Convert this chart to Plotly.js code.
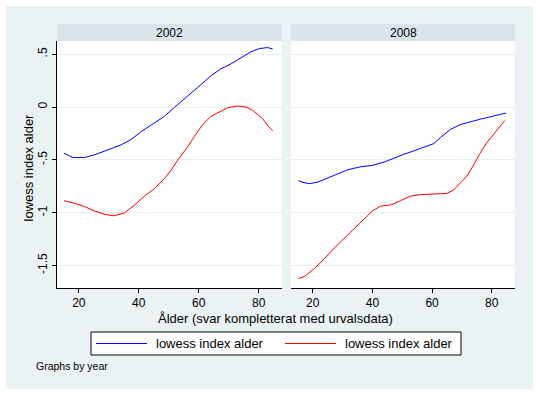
<!DOCTYPE html>
<html>
<head>
<meta charset="utf-8">
<script src="https://cdn.plot.ly/plotly-3.0.1.min.js"></script>
<style>html,body{margin:0;padding:0;background:#fff}#chart{width:540px;height:396px}</style>
</head>
<body>
<div id="chart"></div>
<script>
// Data
const panels = ['2002', '2008'];
const tickVals = [0.5, 0, -0.5, -1, -1.5];
const tickText = ['.5', '0', '-.5', '-1', '-1.5'];
const xTicks = [20, 40, 60, 80];

const age2002Blue = [15, 18, 21.9, 25.2, 29.7, 34.1, 37.4, 40.8, 45.2, 48.6, 51.9, 56.3, 59.7, 64.1, 67.4, 70.8, 74.1, 77.4, 80.2, 83, 84.7];
const val2002Blue = [-0.437, -0.478, -0.478, -0.453, -0.406, -0.358, -0.308, -0.233, -0.151, -0.088, -0.003, 0.10, 0.186, 0.296, 0.362, 0.409, 0.469, 0.522, 0.553, 0.563, 0.55];

const age2002Red = [15, 18.6, 21.9, 25.2, 28.6, 31.7, 35.2, 38.6, 41.9, 45.2, 48.6, 50.8, 53, 56.3, 58.6, 61.3, 64.1, 66.9, 69.7, 73, 75.8, 78, 81.3, 83, 84.7];
const val2002Red = [-0.887, -0.912, -0.943, -0.984, -1.016, -1.031, -1.003, -0.928, -0.843, -0.774, -0.676, -0.597, -0.503, -0.377, -0.277, -0.167, -0.088, -0.047, -0.006, 0.009, 0.0, -0.031, -0.11, -0.176, -0.226];

const age2008Blue = [15.2, 16.7, 18.9, 21.7, 25, 28.3, 31.7, 36.1, 40, 43.9, 47.2, 50.6, 53.9, 57.2, 60.6, 62.8, 66.1, 69.4, 72.8, 76.1, 79.4, 82.8, 84.8];
const val2008Blue = [-0.698, -0.714, -0.726, -0.711, -0.673, -0.632, -0.594, -0.566, -0.553, -0.522, -0.484, -0.447, -0.415, -0.381, -0.346, -0.289, -0.214, -0.167, -0.138, -0.116, -0.094, -0.069, -0.057];

const age2008Red = [15.2, 17.2, 20.6, 23.9, 27.2, 30.6, 33.9, 37.2, 40, 42.8, 46.1, 49.4, 52.8, 56.1, 60.6, 65, 67.2, 69.4, 71.7, 73.9, 76.1, 78.3, 80.6, 82.8, 84.4];
const val2008Red = [-1.626, -1.604, -1.528, -1.437, -1.336, -1.242, -1.151, -1.057, -0.984, -0.937, -0.928, -0.887, -0.843, -0.830, -0.827, -0.818, -0.786, -0.726, -0.654, -0.550, -0.437, -0.340, -0.255, -0.182, -0.129];

const legendLabels = ['lowess index alder', 'lowess index alder'];
const xTitle = 'Ålder (svar kompletterat med urvalsdata)';
const yTitle = 'lowess index alder';
const note = 'Graphs by year';

(function () {
const W = 540, H = 396;
const px = v => v / W;
const py = v => 1 - v / H;
const FONT = 'Liberation Sans, Arial, sans-serif';
const BG = '#EAF2F3';
const STRIP = '#D9E5EA';
const GRID = '#E6EEF0';

const line = (c) => ({color: c, width: 1});
const traces = [
  {x: age2002Blue, y: val2002Blue, xaxis: 'x', yaxis: 'y', mode: 'lines', line: line('#0000FF'), name: legendLabels[0], showlegend: false},
  {x: age2002Red, y: val2002Red, xaxis: 'x', yaxis: 'y', mode: 'lines', line: line('#FF0000'), name: legendLabels[1], showlegend: false},
  {x: age2008Blue, y: val2008Blue, xaxis: 'x2', yaxis: 'y2', mode: 'lines', line: line('#0000FF'), name: legendLabels[0], showlegend: false},
  {x: age2008Red, y: val2008Red, xaxis: 'x2', yaxis: 'y2', mode: 'lines', line: line('#FF0000'), name: legendLabels[1], showlegend: false}
];

const p1 = [57, 282], p2 = [291, 515];
const topY = 41, botY = 288, stripTop = 24;
const xr = [12.7, 87.8];
const yr = [-1.714, 0.625];

const xaxisBase = {
  range: xr, tickvals: xTicks, ticks: 'outside', ticklen: 4, tickcolor: '#000',
  showline: true, linecolor: '#000', linewidth: 1, showgrid: false, zeroline: false,
  tickfont: {family: FONT, size: 12, color: '#000'}, fixedrange: true
};
const yaxisBase = {
  range: yr, tickvals: tickVals, ticktext: tickText, showgrid: true, gridcolor: GRID, gridwidth: 1,
  zeroline: false, fixedrange: true
};

const shapes = [
  {type: 'rect', xref: 'paper', yref: 'paper', x0: px(6), x1: px(533), y0: py(389), y1: py(6), fillcolor: BG, line: {width: 0}, layer: 'below'},
];
[p1, p2].forEach(p => {
  shapes.push({type: 'rect', xref: 'paper', yref: 'paper', x0: px(p[0]), x1: px(p[1]), y0: py(botY), y1: py(topY), fillcolor: '#FFFFFF', line: {width: 0}, layer: 'below'});
  shapes.push({type: 'rect', xref: 'paper', yref: 'paper', x0: px(p[0]), x1: px(p[1]), y0: py(topY), y1: py(stripTop), fillcolor: STRIP, line: {width: 0}, layer: 'below'});
});
// legend box and samples
shapes.push({type: 'rect', xref: 'paper', yref: 'paper', x0: px(91), x1: px(461), y0: py(355), y1: py(332), fillcolor: '#FFFFFF', line: {color: '#000', width: 1}});
shapes.push({type: 'line', xref: 'paper', yref: 'paper', x0: px(96), x1: px(147), y0: py(343.5), y1: py(343.5), line: {color: '#0000FF', width: 1}});
shapes.push({type: 'line', xref: 'paper', yref: 'paper', x0: px(285), x1: px(336), y0: py(343.5), y1: py(343.5), line: {color: '#FF0000', width: 1}});

const annotations = [
  {text: panels[0], x: px((p1[0] + p1[1]) / 2), y: py(32.5), xref: 'paper', yref: 'paper', showarrow: false, xanchor: 'center', yanchor: 'middle', font: {family: FONT, size: 12, color: '#000'}},
  {text: panels[1], x: px((p2[0] + p2[1]) / 2), y: py(32.5), xref: 'paper', yref: 'paper', showarrow: false, xanchor: 'center', yanchor: 'middle', font: {family: FONT, size: 12, color: '#000'}},
  {text: xTitle, x: px(275.5), y: py(318), xref: 'paper', yref: 'paper', showarrow: false, xanchor: 'center', yanchor: 'middle', font: {family: FONT, size: 13, color: '#000'}},
  {text: yTitle, x: px(27.5), y: py(168), xref: 'paper', yref: 'paper', showarrow: false, xanchor: 'center', yanchor: 'middle', textangle: -90, font: {family: FONT, size: 13, color: '#000'}},
  {text: legendLabels[0], x: px(154), y: py(343.5), xref: 'paper', yref: 'paper', showarrow: false, xanchor: 'left', yanchor: 'middle', font: {family: FONT, size: 13, color: '#000'}},
  {text: legendLabels[1], x: px(342.5), y: py(343.5), xref: 'paper', yref: 'paper', showarrow: false, xanchor: 'left', yanchor: 'middle', font: {family: FONT, size: 13, color: '#000'}},
  {text: note, x: px(34), y: py(366), xref: 'paper', yref: 'paper', showarrow: false, xanchor: 'left', yanchor: 'middle', font: {family: FONT, size: 10.5, color: '#000'}}
];

const layout = {
  width: W, height: H,
  margin: {l: 0, r: 0, t: 0, b: 0, pad: 0},
  paper_bgcolor: '#FFFFFF', plot_bgcolor: 'rgba(0,0,0,0)',
  showlegend: false,
  font: {family: FONT, color: '#000'},
  xaxis: Object.assign({}, xaxisBase, {domain: [px(p1[0]), px(p1[1])], anchor: 'y'}),
  xaxis2: Object.assign({}, xaxisBase, {domain: [px(p2[0]), px(p2[1])], anchor: 'y2'}),
  yaxis: Object.assign({}, yaxisBase, {domain: [py(botY), py(topY)], anchor: 'x',
    showline: true, linecolor: '#000', linewidth: 1, ticks: 'outside', ticklen: 4, tickcolor: '#000',
    tickangle: -90, tickfont: {family: FONT, size: 12, color: '#000'}}),
  yaxis2: Object.assign({}, yaxisBase, {domain: [py(botY), py(topY)], anchor: 'x2',
    showline: false, ticks: '', showticklabels: false}),
  shapes: shapes,
  annotations: annotations
};

Plotly.newPlot('chart', traces, layout, {displayModeBar: false, staticPlot: true});
})();
</script>
</body>
</html>
